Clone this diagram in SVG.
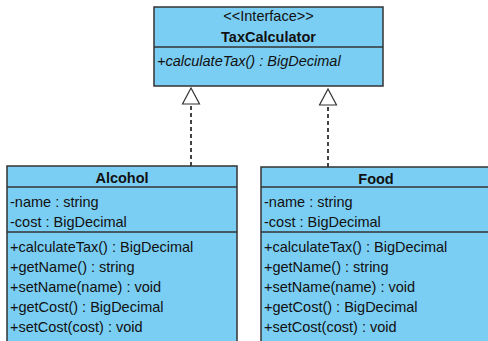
<svg xmlns="http://www.w3.org/2000/svg" width="488" height="341" viewBox="0 0 488 341">
  <defs>
    <marker id="realize" markerWidth="20" markerHeight="20" refX="9" refY="1" orient="auto" markerUnits="userSpaceOnUse" viewBox="0 0 20 20">
      <path d="M9,1 L17.5,17 L0.5,17 Z" fill="#ffffff" stroke="#333333" stroke-width="1.2"/>
    </marker>
    <style>
      .box { fill: #7BCEF3; stroke: #333333; stroke-width: 1.5; }
      .sep { stroke: #333333; stroke-width: 1.5; }
      .t { font-family: "Liberation Sans", Arial, sans-serif; font-size: 14.5px; fill: #111111; }
      .title { font-weight: bold; text-anchor: middle; }
      .stereo { text-anchor: middle; }
      .ital { font-style: italic; }
      .dep { stroke: #444444; stroke-width: 2; stroke-dasharray: 4 3; fill: none; }
    </style>
  </defs>

  <g id="connectors">
    <line class="dep" x1="191" y1="166" x2="191" y2="104"/>
    <path d="M191,88 L199.5,104 L182.5,104 Z" fill="#ffffff" stroke="#333333" stroke-width="1.2"/>
    <line class="dep" x1="328" y1="167" x2="328" y2="105"/>
    <path d="M328,89 L336.5,105 L319.5,105 Z" fill="#ffffff" stroke="#333333" stroke-width="1.2"/>
  </g>

  <g id="TaxCalculator">
    <rect class="box" x="154" y="7" width="229" height="79"/>
    <line class="sep" x1="154" y1="47" x2="383" y2="47"/>
    <text class="t stereo" x="268.5" y="21">&lt;&lt;Interface&gt;&gt;</text>
    <text class="t title" x="268.5" y="42">TaxCalculator</text>
    <text class="t ital" x="157" y="66">+calculateTax() : BigDecimal</text>
  </g>

  <g id="Alcohol">
    <rect class="box" x="7" y="166" width="230" height="185"/>
    <line class="sep" x1="7" y1="187" x2="237" y2="187"/>
    <line class="sep" x1="7" y1="232" x2="237" y2="232"/>
    <text class="t title" x="122" y="183">Alcohol</text>
    <text class="t" x="10" y="207">-name : string</text>
    <text class="t" x="10" y="227">-cost : BigDecimal</text>
    <text class="t" x="10" y="252">+calculateTax() : BigDecimal</text>
    <text class="t" x="10" y="272">+getName() : string</text>
    <text class="t" x="10" y="292">+setName(name) : void</text>
    <text class="t" x="10" y="312">+getCost() : BigDecimal</text>
    <text class="t" x="10" y="332">+setCost(cost) : void</text>
  </g>

  <g id="Food">
    <rect class="box" x="261" y="167" width="240" height="184"/>
    <line class="sep" x1="261" y1="187" x2="501" y2="187"/>
    <line class="sep" x1="261" y1="232" x2="501" y2="232"/>
    <text class="t title" x="376" y="184">Food</text>
    <text class="t" x="264" y="207">-name : string</text>
    <text class="t" x="264" y="227">-cost : BigDecimal</text>
    <text class="t" x="264" y="252">+calculateTax() : BigDecimal</text>
    <text class="t" x="264" y="272">+getName() : string</text>
    <text class="t" x="264" y="292">+setName(name) : void</text>
    <text class="t" x="264" y="312">+getCost() : BigDecimal</text>
    <text class="t" x="264" y="332">+setCost(cost) : void</text>
  </g>
</svg>
